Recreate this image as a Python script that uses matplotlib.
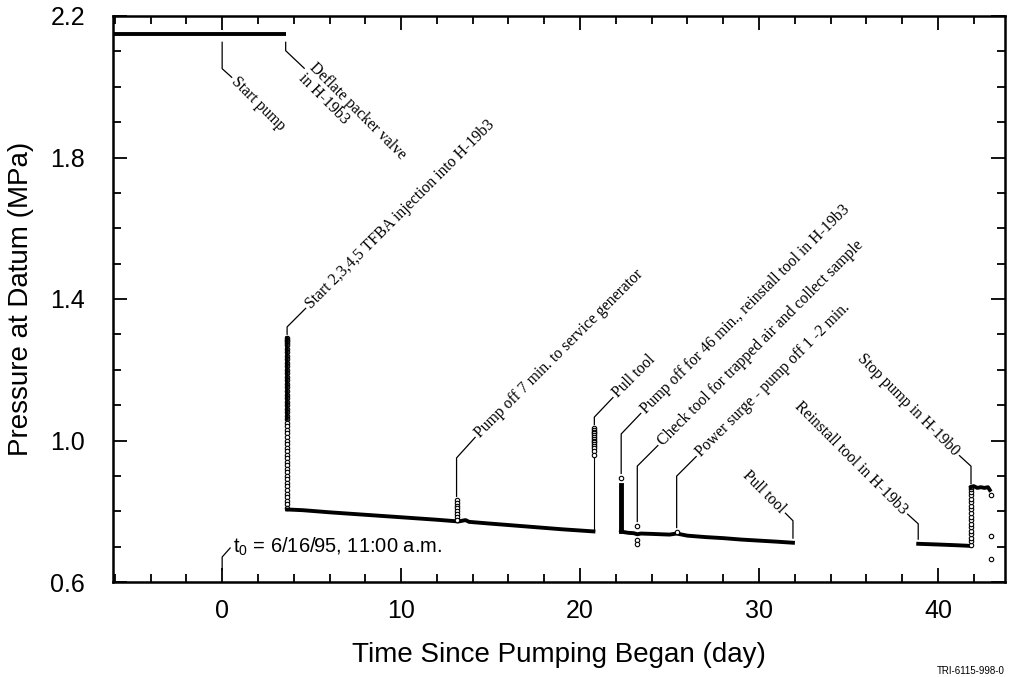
import matplotlib
matplotlib.use('Agg')
import matplotlib.pyplot as plt
from matplotlib.ticker import MultipleLocator, FormatStrFormatter
import numpy as np

# ---------------- data ----------------
level_t = [-6.1, 3.55]
level_p = [2.15, 2.15]

inj_t = 3.63
inj_dense = [1.29, 1.06]
inj_p = [1.29, 1.285, 1.28, 1.275, 1.27, 1.26, 1.25, 1.24, 1.23, 1.22, 1.21,
         1.20, 1.19, 1.18, 1.17, 1.16, 1.15, 1.14, 1.13, 1.12, 1.11, 1.10,
         1.09, 1.08, 1.07, 1.06, 1.05, 1.04, 1.03, 1.02, 1.01, 1.00, 0.99,
         0.98, 0.97, 0.96, 0.95, 0.94, 0.93, 0.92, 0.91, 0.90, 0.89, 0.88,
         0.87, 0.86, 0.85, 0.84, 0.83, 0.82, 0.81]

decl1_t = [3.63, 4.5, 6.0, 8.0, 10.0, 12.0, 13.0, 13.2, 13.6, 13.8, 15.0, 17.0, 19.0, 20.75]
decl1_p = [0.805, 0.803, 0.797, 0.790, 0.783, 0.776, 0.772, 0.771, 0.775, 0.770, 0.765, 0.757, 0.749, 0.743]

gen_t = 13.1
gen_p = [0.832, 0.824, 0.816, 0.808, 0.800, 0.792, 0.784, 0.776]

pull1_t = 20.8
pull1_p = [1.035, 1.030, 1.025, 1.020, 1.015, 1.010, 1.005, 1.000, 0.995, 0.990,
           0.985, 0.980, 0.970, 0.960]
pull1_low = [0.743, 0.96]

resume_t = 22.3
resume_top = [0.894]
resume_p = [0.874, 0.745]

decl2_t = [22.3, 22.45, 22.7, 23.0, 23.2, 23.4, 24.0, 25.0, 25.4, 26.0, 27.0, 28.0, 29.0, 30.0, 31.0, 31.9]
decl2_p = [0.745, 0.741, 0.739, 0.738, 0.735, 0.737, 0.736, 0.734, 0.737, 0.731, 0.727, 0.724, 0.720, 0.717, 0.714, 0.711]

check_t = 23.2
check_p = [0.758]
dip_p = [0.718, 0.708]

surge_t = 25.4
surge_p = [0.741]

decl3_t = [38.9, 40.0, 41.0, 41.85]
decl3_p = [0.708, 0.706, 0.704, 0.702]

stop_t = 41.85
stop_p = [0.705, 0.715, 0.725, 0.735, 0.745, 0.755, 0.765, 0.775, 0.785, 0.795,
          0.805, 0.815, 0.825, 0.835, 0.845, 0.855, 0.862, 0.868]

plateau_t = [41.85, 42.0, 42.2, 42.4, 42.6, 42.8, 42.9]
plateau_p = [0.868, 0.871, 0.866, 0.868, 0.866, 0.868, 0.860]

tail_t = [42.95, 42.95, 42.95]
tail_p = [0.845, 0.730, 0.665]

# annotation events: (time, pressure) anchors and their labels
ann_labels = ["Start pump",
              "Deflate packer valve\nin H-19b3",
              "Start 2,3,4,5 TFBA injection into H-19b3",
              "Pump off 7 min. to service generator",
              "Pull tool",
              "Pump off for 46 min., reinstall tool in H-19b3",
              "Check tool for trapped air and collect sample",
              "Power surge - pump off 1 -2 min.",
              "Pull tool",
              "Reinstall tool in H-19b3",
              "Stop pump in H-19b0"]
ann_t = [0.0, 3.55, 3.63, 13.1, 20.8, 22.3, 23.2, 25.4, 31.9, 38.9, 41.85]
ann_p = [2.15, 2.15, 1.29, 0.832, 1.035, 0.894, 0.758, 0.741, 0.711, 0.708, 0.868]

x_major = [0, 10, 20, 30, 40]
y_major = [0.6, 1.0, 1.4, 1.8, 2.2]

# ---------------- figure ----------------
W, H = 1011, 677
fig = plt.figure(figsize=(W / 100, H / 100), dpi=100)
ax = fig.add_axes([113 / W, 1 - 582 / H, 892 / W, 566 / H])
ax.set_xlim(-6.1, 43.75)
ax.set_ylim(0.6, 2.2)

sans = 'Liberation Sans'
serif = 'Liberation Serif'

for s in ax.spines.values():
    s.set_linewidth(1.8)

ax.set_xticks(x_major)
ax.set_yticks(y_major)
ax.xaxis.set_minor_locator(MultipleLocator(2))
ax.yaxis.set_minor_locator(MultipleLocator(0.1))
ax.yaxis.set_major_formatter(FormatStrFormatter('%.1f'))
ax.tick_params(which='both', direction='in', top=True, right=True, width=1.3)
ax.tick_params(which='major', length=10, labelsize=18)
ax.tick_params(axis='y', which='major', pad=20)
ax.tick_params(axis='x', which='major', pad=12)
ax.tick_params(which='minor', length=6)
for lab in ax.get_xticklabels() + ax.get_yticklabels():
    lab.set_family(sans)

ax.set_xlabel('Time Since Pumping Began (day)', fontsize=20, family=sans, labelpad=14)
ax.set_ylabel('Pressure at Datum (MPa)', fontsize=20, family=sans, labelpad=12)

k = 'black'
lw_main = 2.8
circ = dict(marker='o', markersize=3.2, markerfacecolor='white', markeredgecolor=k,
            markeredgewidth=0.8, linestyle='none')

ax.plot(level_t, level_p, color=k, lw=lw_main, solid_capstyle='butt')
ax.plot([inj_t] * len(inj_p), inj_p, color=k, lw=0.8)
ax.plot([inj_t] * len(inj_p), inj_p, **circ)
ax.plot([inj_t] * 2, inj_dense, color=k, lw=2.6)
ax.plot(decl1_t, decl1_p, color=k, lw=lw_main)
ax.plot([gen_t] * len(gen_p), gen_p, **circ)
ax.plot([pull1_t] * 2, pull1_low, color=k, lw=0.8)
ax.plot([pull1_t] * len(pull1_p), pull1_p, **circ)
ax.plot([resume_t] * 2, resume_p, color=k, lw=3.5)
ax.plot([resume_t], resume_top, **circ)
ax.plot(decl2_t, decl2_p, color=k, lw=lw_main)
ax.plot([check_t], check_p, **circ)
ax.plot([check_t] * len(dip_p), dip_p, **circ)
ax.plot([surge_t], surge_p, **circ)
ax.plot(decl3_t, decl3_p, color=k, lw=lw_main)
ax.plot([stop_t] * len(stop_p), stop_p, color=k, lw=0.8)
ax.plot([stop_t] * len(stop_p), stop_p, **circ)
ax.plot(plateau_t, plateau_p, color=k, lw=lw_main)
ax.plot(tail_t, tail_p, **circ)

# ---------------- annotations (offsets in pixels, y down) ----------------
fig.canvas.draw()
inv = ax.transData.inverted()


def leader(t, p, gap, segs, text, rot, ha, off):
    x0, y0 = ax.transData.transform((t, p))
    pts = [(x0, y0 - gap)]
    for dx, dy in segs:
        x, y = pts[-1]
        pts.append((x + dx, y - dy))
    d = inv.transform(pts)
    ax.plot(d[:, 0], d[:, 1], color=k, lw=0.9, solid_capstyle='butt')
    tx, ty = pts[-1][0] + off[0], pts[-1][1] - off[1]
    td = inv.transform((tx, ty))
    ax.text(td[0], td[1], text, rotation=rot, rotation_mode='anchor', ha=ha,
            va='center', family=serif, fontsize=11.3, linespacing=0.95)


geo = [
    (8, [(0, 27), (10, 9)], -45, 'left', (2, 2)),
    (8, [(0, 9), (19, 18)], -45, 'left', (2, 2)),
    (-3, [(0, -8), (19, -19)], 45, 'left', (2, -2)),
    (-3, [(0, -39), (19, -21)], 45, 'left', (2, -2)),
    (-3, [(0, -8), (19, -20)], 45, 'left', (2, -2)),
    (-4, [(0, -40), (20, -21)], 45, 'left', (2, -2)),
    (-4, [(0, -56), (21, -21)], 45, 'left', (2, -2)),
    (-4, [(0, -52), (20, -20)], 45, 'left', (2, -2)),
    (-4, [(0, -18), (-8, -8)], -45, 'right', (-2, -2)),
    (-4, [(0, -16), (-11, -10)], -45, 'right', (-2, -2)),
    (-3, [(0, -18), (-12, -11)], -45, 'right', (-2, -2)),
]
for (t, p, lab, g) in zip(ann_t, ann_p, ann_labels, geo):
    leader(t, p, g[0], g[1], lab, g[2], g[3], g[4])

# t0 annotation
x0, y0 = ax.transData.transform((0, 0.6))
pts = [(x0, y0 + 12), (x0, y0 + 25), (x0 + 8, y0 + 34)]
d = inv.transform(pts)
ax.plot(d[:, 0], d[:, 1], color=k, lw=0.9)
td = inv.transform((x0 + 11, y0 + 35))
ax.text(td[0], td[1], r'$\mathregular{t_0}$ = 6/16/95, 11:00 a.m.', family=sans, fontsize=14.5,
        ha='left', va='center')

fig.text(1005 / W, 1 - 671 / H, 'TRI-6115-998-0', family=sans, fontsize=7,
         ha='right', va='center')

fig.savefig('out.png', dpi=100)
